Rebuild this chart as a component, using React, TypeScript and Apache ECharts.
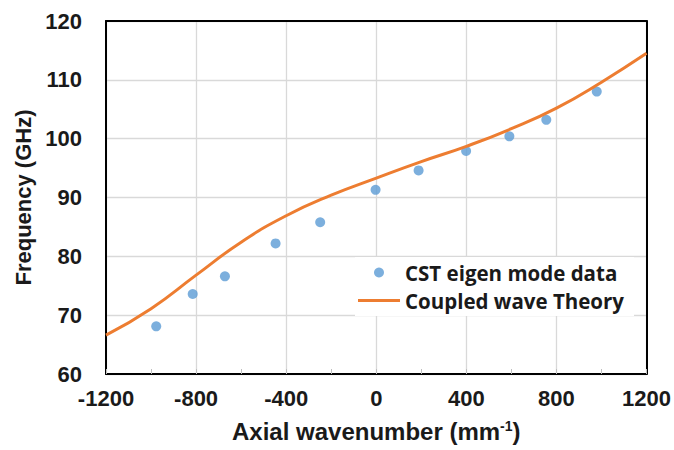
import React, { useEffect, useRef } from "react";
import * as echarts from "echarts";

const cstK = [-977, -815, -672, -447, -249, -3, 188, 399, 591, 755, 979];
const cstF = [68.1, 73.6, 76.6, 82.2, 85.8, 91.3, 94.6, 97.9, 100.4, 103.2, 108.0];

const theoryK = [-1200, -1000, -800, -600, -400, -200, 0, 200, 400, 600, 800, 1000, 1200];
const theoryF = [66.6, 71.1, 76.8, 82.4, 86.9, 90.4, 93.3, 96.1, 98.7, 101.7, 105.2, 109.6, 114.5];

const xTicks = [-1200, -800, -400, 0, 400, 800, 1200];
const yTicks = [60, 70, 80, 90, 100, 110, 120];

export default function App() {
  const ref = useRef<HTMLDivElement>(null);
  useEffect(() => {
    if (!ref.current) return;
    document.body.style.margin = "0";
    document.body.style.overflow = "hidden";
    const chart = echarts.init(ref.current, null, { renderer: "svg" });
    const axisFont = "'Liberation Sans', Arial, sans-serif";
    chart.setOption({
      animation: false,
      backgroundColor: "#fff",
      grid: { left: 106, right: 27, top: 21, bottom: 76, containLabel: false },
      xAxis: [
        {
          type: "value",
          min: xTicks[0],
          max: xTicks[xTicks.length - 1],
          interval: 400,
          name: "Axial wavenumber (mm{sup|-1})",
          nameLocation: "middle",
          nameGap: 45,
          nameTextStyle: {
            fontFamily: axisFont,
            fontWeight: "bold",
            fontSize: 24,
            color: "#1a1a1a",
            rich: {
              sup: { fontFamily: axisFont, fontWeight: "bold", fontSize: 14, verticalAlign: "top", padding: [0, 0, 11, 0], color: "#1a1a1a" },
            },
          },
          axisLine: { show: true, lineStyle: { color: "#000", width: 2 } },
          axisTick: { show: true, inside: true, length: 5, lineStyle: { color: "#bfbfbf" } },
          minorTick: { show: true, splitNumber: 2, length: 5, lineStyle: { color: "#bfbfbf" } },
          axisLabel: {
            fontFamily: axisFont,
            fontWeight: "bold",
            fontSize: 22,
            color: "#1a1a1a",
            margin: 13,
            formatter: (v: number) => String(v),
          },
          splitLine: { show: true, lineStyle: { color: "#d9d9d9", width: 1.3 } },
        },
        {
          type: "value",
          position: "top",
          min: xTicks[0],
          max: xTicks[xTicks.length - 1],
          interval: 400,
          axisLine: { show: true, onZero: false, lineStyle: { color: "#000", width: 2 } },
          axisTick: { show: false },
          axisLabel: { show: false },
          splitLine: { show: false },
        },
      ],
      yAxis: [
        {
          type: "value",
          min: yTicks[0],
          max: yTicks[yTicks.length - 1],
          interval: 10,
          name: "Frequency (GHz)",
          nameLocation: "middle",
          nameGap: 72,
          nameTextStyle: { fontFamily: axisFont, fontWeight: "bold", fontSize: 22, color: "#1a1a1a" },
          axisLine: { show: true, onZero: false, lineStyle: { color: "#000", width: 2 } },
          axisTick: { show: false },
          axisLabel: { fontFamily: axisFont, fontWeight: "bold", fontSize: 22, color: "#1a1a1a", margin: 24 },
          splitLine: { show: true, lineStyle: { color: "#d9d9d9", width: 1.3 } },
        },
        {
          type: "value",
          position: "right",
          min: yTicks[0],
          max: yTicks[yTicks.length - 1],
          interval: 10,
          axisLine: { show: true, onZero: false, lineStyle: { color: "#000", width: 2 } },
          axisTick: { show: false },
          axisLabel: { show: false },
          splitLine: { show: false },
        },
      ],
      legend: {
        orient: "vertical",
        left: 355,
        top: 257,
        padding: [5, 10, 5, 3],
        backgroundColor: "#fff",
        itemWidth: 42,
        itemHeight: 10,
        itemGap: 7,
        textStyle: { fontFamily: "'Open Sans', Lato, sans-serif", fontWeight: "bold", fontSize: 20.5, color: "#1a1a1a" },
        data: [
          { name: "CST eigen mode data", icon: "circle" },
          { name: "Coupled wave Theory", icon: "path://M0 0H42V3.2H0Z" },
        ],
      },
      series: [
        {
          name: "CST eigen mode data",
          type: "scatter",
          symbol: "circle",
          symbolSize: 10,
          itemStyle: { color: "#5b9bd5" },
          data: cstK.map((k, i) => [k, cstF[i]]),
          z: 2,
        },
        {
          name: "Coupled wave Theory",
          type: "line",
          smooth: true,
          symbol: "none",
          showSymbol: false,
          lineStyle: { color: "#ed7d31", width: 3 },
          itemStyle: { color: "#ed7d31" },
          data: theoryK.map((k, i) => [k, theoryF[i]]),
          z: 3,
        },
      ],
    });
    return () => chart.dispose();
  }, []);
  return <div ref={ref} style={{ width: 674, height: 450 }} />;
}
